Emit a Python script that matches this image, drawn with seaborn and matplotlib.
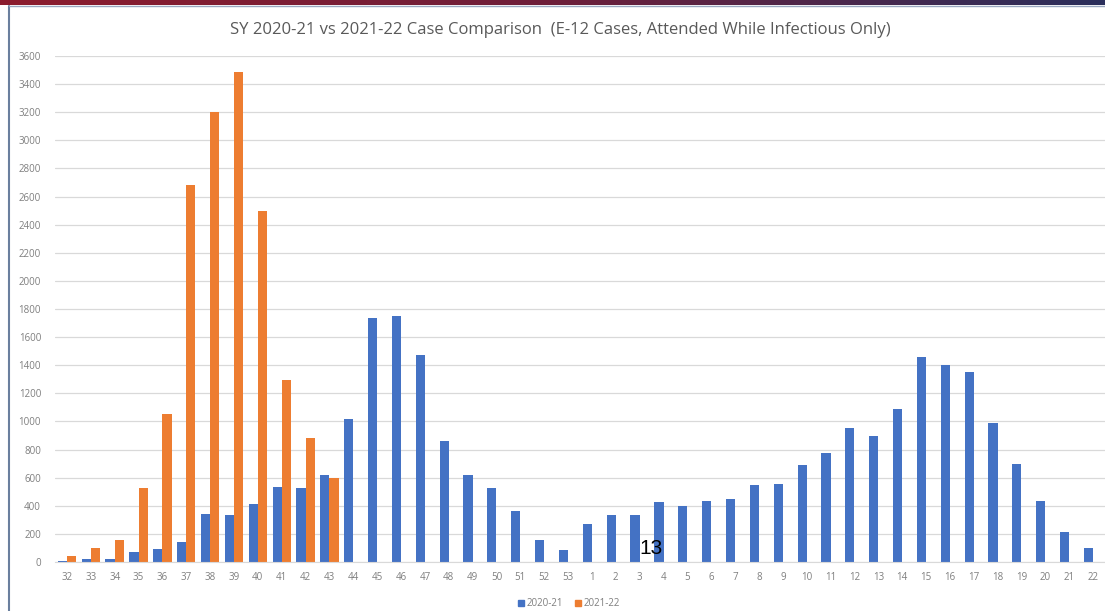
import numpy as np
import pandas as pd
import matplotlib.pyplot as plt
import seaborn as sns
from matplotlib.patches import Patch

# Semanas escolares (SY) e casos por semana
weeks = [str(w) for w in list(range(32, 54)) + list(range(1, 23))]
cases_2020_21 = [5, 20, 20, 70, 90, 140, 340, 335, 410, 535, 530, 620,
                 1020, 1735, 1750, 1475, 860, 620, 525, 365, 160, 85,
                 270, 335, 335, 430, 395, 435, 450, 550, 555, 690, 775,
                 950, 895, 1085, 1455, 1400, 1355, 990, 700, 435, 210, 100]
weeks_2021_22 = weeks[:12]
cases_2021_22 = [45, 100, 160, 530, 1055, 2685, 3200, 3485, 2495, 1295, 880, 595]
series_names = ['2020-21', '2021-22']
y_ticks = list(range(0, 3601, 200))

BLUE = '#4472C4'
ORANGE = '#ED7D31'
GREY = '#7f7f7f'


def build_frame():
    a = pd.DataFrame({'week': weeks, 'cases': cases_2020_21, 'season': series_names[0]})
    b = pd.DataFrame({'week': weeks_2021_22, 'cases': cases_2021_22, 'season': series_names[1]})
    return pd.concat([a, b], ignore_index=True)


def main():
    sns.set_style('white')
    plt.rcParams['font.family'] = ['Open Sans', 'DejaVu Sans']

    df = build_frame()

    fig = plt.figure(figsize=(11.05, 6.11), dpi=100)
    ax = fig.add_axes([55 / 1105, 1 - 562 / 611, 1 - 55 / 1105, (562 - 56) / 611])

    sns.barplot(data=df, x='week', y='cases', hue='season', order=weeks,
                hue_order=series_names, palette=[BLUE, ORANGE], width=0.77,
                saturation=1, legend=False, linewidth=0, ax=ax)

    ax.set_ylim(0, 3600)
    ax.set_yticks(y_ticks)
    ax.grid(axis='y', color='#d9d9d9', linewidth=0.9)
    ax.set_axisbelow(True)
    for s in ['top', 'right', 'left']:
        ax.spines[s].set_visible(False)
    ax.spines['bottom'].set_color('#d9d9d9')
    ax.tick_params(axis='both', length=0, labelsize=7, labelcolor=GREY)
    ax.tick_params(axis='x', pad=7)
    ax.tick_params(axis='y', pad=10)
    ax.set_xlabel('')
    ax.set_ylabel('')

    # Titulo
    fig.text(0.507, 1 - 30 / 611,
             'SY 2020-21 vs 2021-22 Case Comparison  (E-12 Cases, Attended While Infectious Only)',
             ha='center', va='center', fontsize=12, color='#595959')

    # Legenda
    handles = [Patch(color=BLUE, label=series_names[0]), Patch(color=ORANGE, label=series_names[1])]
    fig.legend(handles=handles, loc='center', bbox_to_anchor=(0.515, 1 - 604 / 611), ncol=2,
               frameon=False, fontsize=7, handlelength=0.6, handleheight=0.6,
               handletextpad=0.3, columnspacing=1.2, labelcolor=GREY)

    # Faixa superior do slide e borda esquerda
    grad = fig.add_axes([0, 1 - 5 / 611, 1, 5 / 611])
    grad.imshow(np.linspace(0, 1, 256).reshape(1, -1), aspect='auto',
                cmap=plt.matplotlib.colors.LinearSegmentedColormap.from_list(
                    'bar', ['#8c1c2e', '#6e1f3a', '#2b2f5c']))
    grad.axis('off')
    fig.add_artist(plt.Line2D([9 / 1105, 9 / 1105], [0, 1 - 6 / 611], color='#6a7f9e', lw=1.5))
    fig.add_artist(plt.Line2D([9 / 1105, 1], [1 - 6 / 611, 1 - 6 / 611], color='#9aa8c0', lw=1))

    # Numero do slide sobreposto
    fig.text(651 / 1105, 1 - 549 / 611, '13', ha='center', va='center', fontsize=15,
             color='black', family=['Liberation Sans', 'DejaVu Sans'])

    fig.savefig('out.png', dpi=100)


if __name__ == '__main__':
    main()
